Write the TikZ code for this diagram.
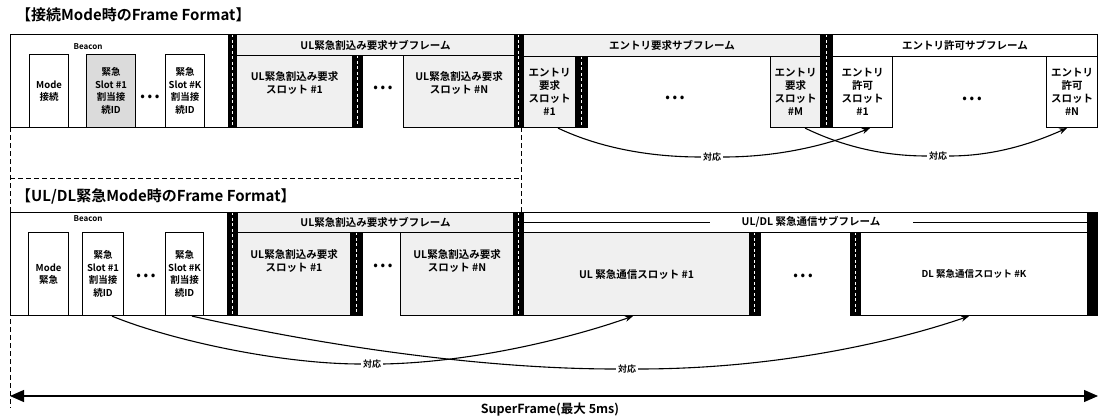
\documentclass[tikz,border=0pt]{standalone}
\usepackage{fontspec}
\setmainfont{Noto Sans CJK JP}[BoldFont={Noto Sans CJK JP Bold}]
\usetikzlibrary{arrows.meta}
\tikzset{
  box/.style={draw, line width=1.1pt, anchor=north west, inner sep=0pt, align=center,
    font=\bfseries\fontsize{9.5}{12.5}\selectfont},
  bigtxt/.style={font=\bfseries\fontsize{10.5}{13}\selectfont},
  spk/.style={fill=gray!12},
  spk2/.style={fill=gray!28},
  guard/.style={fill=black, draw=black, line width=0.6pt, anchor=north west, inner sep=0pt,
    path picture={\draw[white, line width=1.1pt, dash pattern=on 3pt off 2.5pt]
      (path picture bounding box.north) -- (path picture bounding box.south);}},
  solidbar/.style={fill=black, draw=black, anchor=north west, inner sep=0pt},
  hdrtxt/.style={font=\bfseries\fontsize{10.5}{11}\selectfont, inner sep=1pt},
  title/.style={font=\bfseries\fontsize{15}{16}\selectfont, anchor=west, inner sep=0pt},
  beacontxt/.style={font=\bfseries\fontsize{8}{9}\selectfont, inner sep=0pt},
  dotstxt/.style={font=\bfseries\fontsize{12}{12}\selectfont, inner sep=0pt},
  corr/.style={font=\bfseries\fontsize{9}{10}\selectfont, inner sep=2pt},
  link/.style={line width=1.1pt},
  linkarrow/.style={line width=1.1pt, -{Stealth[length=8pt,width=6pt]}},
  dashline/.style={line width=1pt, dash pattern=on 5pt off 3pt},
}
\begin{document}
\begin{tikzpicture}[x=1pt,y=-1pt]
\useasboundingbox (0,0) rectangle (1103,420);

% ================= top: 接続Mode =================
\node[title] (t1) at (16,15) {【接続Mode時のFrame Format】};

\node[box, minimum width=218pt, minimum height=93pt] (tbeacon) at (10,34) {};
\node[beacontxt] (tbl) at (88,47) {Beacon};
\node[box, minimum width=39pt, minimum height=73pt] (tmode) at (29,54) {Mode\\接続};
\node[box, spk2, minimum width=49pt, minimum height=73pt] (ts1) at (86,54) {緊急\\Slot \#1\\割当接\\続ID};
\node[dotstxt] (td1) at (150,98) {• • •};
\node[box, minimum width=39pt, minimum height=73pt] (tsk) at (165,54) {緊急\\Slot \#K\\割当接\\続ID};

\node[guard, minimum width=8pt, minimum height=93pt] (g1) at (228,34) {};

\node[box, spk, minimum width=278pt, minimum height=21pt, hdrtxt] (tulh) at (236,34) {UL緊急割込み要求サブフレーム};
\node[box, spk, bigtxt, minimum width=116pt, minimum height=72pt] (tul1) at (236,55) {UL緊急割込み要求\\スロット \#1\\[6pt]};
\node[guard, minimum width=10pt, minimum height=72pt] (g2) at (352,55) {};
\node[dotstxt] (td2) at (383,89) {• • •};
\node[box, spk, bigtxt, minimum width=111pt, minimum height=72pt] (tuln) at (403,55) {UL緊急割込み要求\\スロット \#N\\[6pt]};

\node[guard, minimum width=9pt, minimum height=93pt] (g3) at (514,34) {};

\node[box, spk, minimum width=297pt, minimum height=22pt, hdrtxt] (teh) at (523,34) {エントリ要求サブフレーム};
\node[box, spk, bigtxt, minimum width=52pt, minimum height=71pt] (te1) at (523,56) {エントリ\\要求\\スロット\\\#1};
\node[guard, minimum width=12pt, minimum height=71pt] (g4) at (575,56) {};
\node[dotstxt] (td3) at (675,99) {• • •};
\node[box, spk, bigtxt, minimum width=50pt, minimum height=71pt] (tem) at (770,56) {エントリ\\要求\\スロット\\\#M};

\node[guard, minimum width=12pt, minimum height=93pt] (g5) at (820,34) {};

\node[box, minimum width=265pt, minimum height=22pt, hdrtxt] (tph) at (832,34) {エントリ許可サブフレーム};
\node[box, bigtxt, minimum width=60pt, minimum height=71pt] (tp1) at (832,56) {エントリ\\許可\\スロット\\\#1};
\node[dotstxt] (td4) at (972,100) {• • •};
\node[box, bigtxt, minimum width=51pt, minimum height=71pt] (tpn) at (1046,56) {エントリ\\許可\\スロット\\\#N};

% top correspondences
\node[corr] (c1) at (712,157) {対応};
\node[corr] (c2) at (938,156) {対応};
\draw[link] ([xshift=35pt]te1.south west) .. controls (600,148) and (650,157) .. (c1.west);
\draw[linkarrow] (c1.east) .. controls (790,157) and (840,140) .. ([xshift=38pt]tp1.south west);
\draw[link] ([xshift=35pt]tem.south west) .. controls (840,145) and (880,156) .. (c2.west);
\draw[linkarrow] (c2.east) .. controls (1000,156) and (1040,140) .. ([xshift=21pt]tpn.south west);

% dashed guides
\coordinate (dl0) at (10,127);
\coordinate (dl1) at (10,408);
\coordinate (dm0) at (521,127);
\coordinate (dm1) at (521,212);
\coordinate (dh0) at (10,178);
\coordinate (dh1) at (521,178);
\draw[dashline] (dl0) -- (dl1);
\draw[dashline] (dm0) -- (dm1);
\draw[dashline] (dh0) -- (dh1);

% ================= bottom: UL/DL緊急Mode =================
\node[title] (t2) at (16,196) {【UL/DL緊急Mode時のFrame Format】};

\node[box, minimum width=217pt, minimum height=103pt] (bbeacon) at (10,212) {};
\node[beacontxt] (bbl) at (88,219) {Beacon};
\node[box, minimum width=40pt, minimum height=83pt] (bmode) at (28,232) {Mode\\緊急};
\node[box, minimum width=41pt, minimum height=83pt] (bs1) at (82,232) {緊急\\Slot \#1\\割当接\\続ID};
\node[dotstxt] (bd1) at (146,277) {• • •};
\node[box, minimum width=38pt, minimum height=83pt] (bsk) at (165,232) {緊急\\Slot \#K\\割当接\\続ID};

\node[guard, minimum width=10pt, minimum height=103pt] (g6) at (227,212) {};

\node[box, spk, minimum width=276pt, minimum height=20pt, hdrtxt] (bulh) at (237,212) {UL緊急割込み要求サブフレーム};
\node[box, spk, bigtxt, minimum width=113pt, minimum height=83pt] (bul1) at (237,232) {UL緊急割込み要求\\スロット \#1\\[14pt]};
\node[guard, minimum width=12pt, minimum height=83pt] (g7) at (350,232) {};
\node[dotstxt] (bd2) at (383,267) {• • •};
\node[box, spk, bigtxt, minimum width=113pt, minimum height=83pt] (buln) at (400,232) {UL緊急割込み要求\\スロット \#N\\[14pt]};

\node[guard, minimum width=10pt, minimum height=103pt] (g8) at (513,212) {};

\node[box, minimum width=564pt, minimum height=20pt] (budh) at (523,212) {};
\draw[link] (budh.west) -- ([xshift=187pt]budh.west);
\draw[link] (budh.east) -- ([xshift=-175pt]budh.east);
\node[hdrtxt] (budt) at (811,222) {UL/DL 緊急通信サブフレーム};

\node[box, spk, bigtxt, minimum width=226pt, minimum height=83pt] (bus) at (523,232) {UL 緊急通信スロット \#1};
\node[guard, minimum width=11pt, minimum height=83pt] (g9) at (749,232) {};
\node[dotstxt] (bd3) at (803,277) {• • •};
\node[guard, minimum width=10pt, minimum height=83pt] (g10) at (850,232) {};
\node[box, minimum width=227pt, minimum height=83pt, font=\bfseries\fontsize{9.5}{10}\selectfont] (bds) at (860,232) {DL 緊急通信スロット \#K};
\node[solidbar, minimum width=10pt, minimum height=103pt] (g11) at (1087,212) {};

% bottom correspondences
\node[corr] (c3) at (372,364) {対応};
\node[corr] (c4) at (627,369) {対応};
\draw[link] ([xshift=30pt]bs1.south west) .. controls (170,340) and (280,364) .. (c3.west);
\draw[linkarrow] (c3.east) .. controls (480,362) and (580,335) .. ([xshift=110pt]bus.south west);
\draw[link] ([xshift=27pt]bsk.south west) .. controls (320,345) and (480,369) .. (c4.west);
\draw[linkarrow] (c4.east) .. controls (780,369) and (900,340) .. ([xshift=109pt]bds.south west);

% superframe
\coordinate (sfl) at (10,396);
\coordinate (sfr) at (1098,396);
\draw[line width=1.2pt, {Triangle[length=14pt,width=12pt]}-{Triangle[length=14pt,width=12pt]}] (sfl) -- (sfr);
\node[font=\bfseries\fontsize{12.5}{13}\selectfont, inner sep=0pt] (sft) at (550,410) {SuperFrame(最大 5ms)};
\end{tikzpicture}
\end{document}
